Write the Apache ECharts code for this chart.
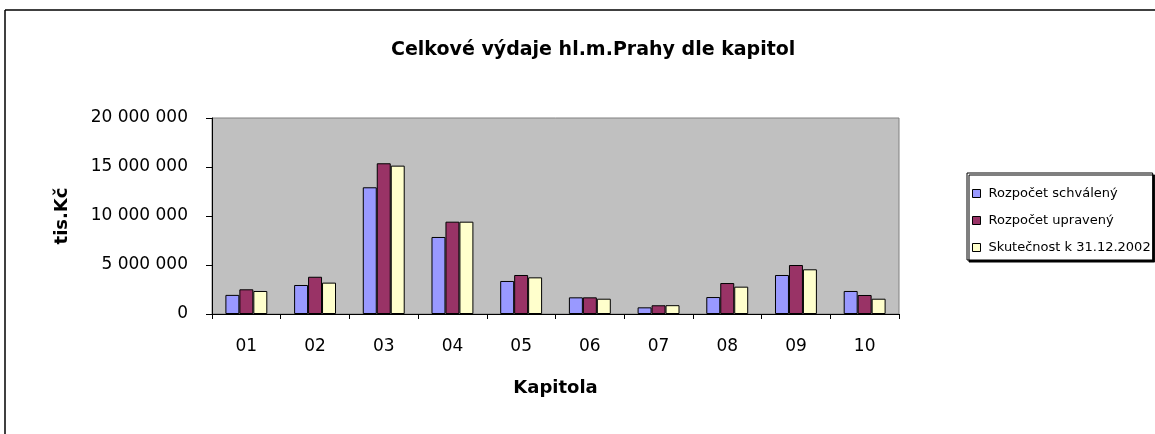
<!DOCTYPE html>
<html><head><meta charset="utf-8">
<script src="https://cdn.jsdelivr.net/npm/echarts@6/dist/echarts.min.js"></script>
<style>html,body{margin:0;padding:0;background:#fff}#c{width:1155px;height:434px}</style>
</head><body><div id="c"></div>
<script>
const categories = ['01','02','03','04','05','06','07','08','09','10'];
const schvaleny = [1950000, 2960000, 12930000, 7860000, 3370000, 1700000, 680000, 1730000, 3980000, 2350000];
const upraveny = [2520000, 3800000, 15380000, 9420000, 3980000, 1700000, 890000, 3160000, 5000000, 1940000];
const skutecnost = [2350000, 3200000, 15140000, 9420000, 3740000, 1560000, 900000, 2790000, 4560000, 1560000];
const seriesNames = ['Rozpočet schválený','Rozpočet upravený','Skutečnost k 31.12.2002'];
const colors = ['#9999FF','#993366','#FFFFCC'];

const chart = echarts.init(document.getElementById('c'));
const font = '"DejaVu Sans", Verdana, sans-serif';
function fmt(v){ return String(v).replace(/\B(?=(\d{3})+(?!\d))/g,' '); }
const data = [schvaleny, upraveny, skutecnost];
chart.setOption({
  animation:false,
  backgroundColor:'#fff',
  title:{text:'Celkové výdaje hl.m.Prahy dle kapitol',left:386,top:36,
    textStyle:{fontFamily:font,fontSize:19,fontWeight:'bold',color:'#000'}},
  grid:{left:212,top:118,width:687,height:196,backgroundColor:'#C0C0C0',show:true,borderColor:'#808080',borderWidth:1},
  legend:{orient:'vertical',left:967,top:173,itemWidth:8,itemHeight:8,itemGap:14,
    backgroundColor:'#fff',borderColor:'#000',borderWidth:1,padding:[14,2,6,5],
    shadowColor:'#000',shadowOffsetX:2,shadowOffsetY:2,
    textStyle:{fontFamily:font,fontSize:13,lineHeight:12,color:'#000',padding:[0,0,0,3]},
    data:seriesNames.map(n=>({name:n,icon:'rect',itemStyle:{borderColor:'#000',borderWidth:1}}))},
  xAxis:{type:'category',data:categories,
    name:'Kapitola',nameLocation:'middle',nameGap:65,
    nameTextStyle:{fontFamily:font,fontSize:18,fontWeight:'bold',color:'#000'},
    axisLine:{lineStyle:{color:'#000',width:1}},
    axisTick:{show:true,inside:false,length:5,lineStyle:{color:'#000'}},
    axisLabel:{fontFamily:font,fontSize:17,color:'#000',margin:24},
    splitLine:{show:false}},
  yAxis:{type:'value',min:0,max:20000000,interval:5000000,
    name:'tis.Kč',nameLocation:'middle',nameGap:141,nameRotate:90,
    nameTextStyle:{fontFamily:font,fontSize:18,fontWeight:'bold',color:'#000'},
    axisLine:{show:true,lineStyle:{color:'#000',width:1}},
    axisTick:{show:true,length:6,lineStyle:{color:'#000'}},
    axisLabel:{fontFamily:font,fontSize:17,color:'#000',margin:24,formatter:fmt},
    splitLine:{show:false}},
  series:data.map((d,i)=>({name:seriesNames[i],type:'bar',data:d,
    barGap:'0%',barCategoryGap:'39%',
    itemStyle:{color:colors[i],borderColor:'#000',borderWidth:1}})),
  graphic:[
    {type:'line',shape:{x1:5,y1:10,x2:1155,y2:10},style:{stroke:'#000',lineWidth:1.5},z:100},
    {type:'line',shape:{x1:5,y1:10,x2:5,y2:434},style:{stroke:'#000',lineWidth:1.5},z:100}
  ]
});
</script></body></html>
